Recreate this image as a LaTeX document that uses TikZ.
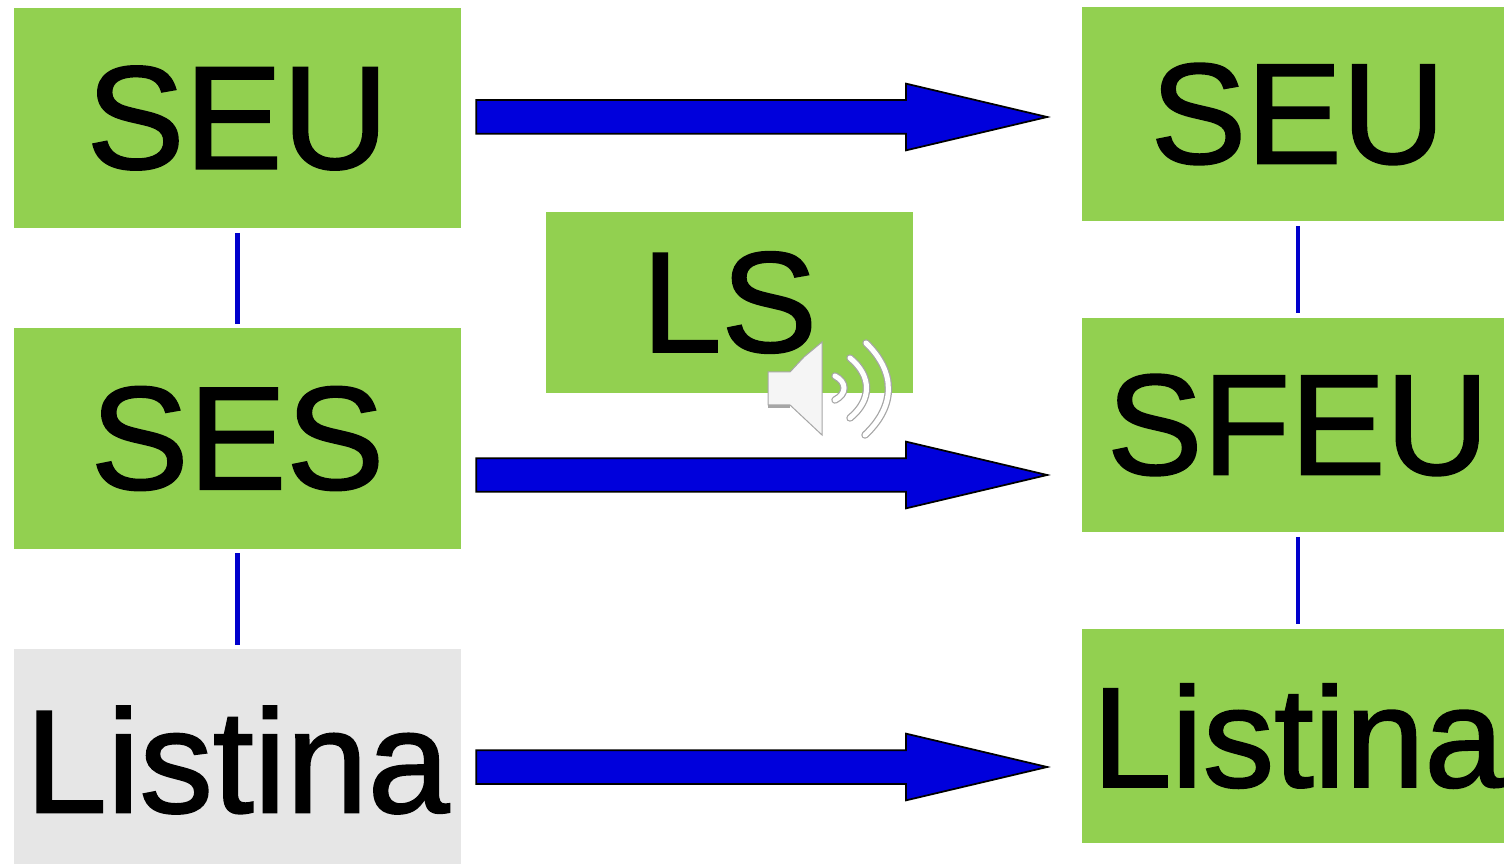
\documentclass[tikz,border=0pt]{standalone}
\usepackage{fontspec}
\setmainfont[FakeBold=1.4]{Liberation Sans}
\usetikzlibrary{shapes.arrows}
\definecolor{boxgreen}{HTML}{92D050}
\definecolor{boxgray}{HTML}{E6E6E6}
\definecolor{arrowblue}{HTML}{0000DC}
\definecolor{linkblue}{HTML}{0000CC}
\tikzset{
  leftfont/.style={font=\fontsize{83.5}{90}\selectfont},
  rightfont/.style={font=\fontsize{81.5}{90}\selectfont},
  box/.style={rectangle,fill=boxgreen,inner sep=0pt,outer sep=0pt,minimum width=8.94cm,minimum height=4.42cm},
  boxr/.style={box,minimum width=8.44cm,minimum height=4.28cm},
  link/.style={color=linkblue,line width=0.09cm},
  bigarrow/.style={single arrow,draw=black,fill=arrowblue,line width=0.035cm,inner sep=0.32cm,outer sep=0pt,
    minimum height=11.42cm,minimum width=1.3cm,single arrow head extend=0.33cm,
    single arrow tip angle=26.6,single arrow head indent=0cm},
  wave/.style={line cap=round,line width=0.15cm,color=gray!70},
  wavein/.style={line cap=round,line width=0.1cm,color=white}
}
\begin{document}
\begin{tikzpicture}[x=0.02cm,y=-0.02cm]
\useasboundingbox (0,0) rectangle (1504,864);
% left column
\node (seul)[box,leftfont] at (237.5,118) {SEU};
\node (sesl)[box,leftfont] at (237.5,438.5) {SES};
\node (listl)[box,leftfont,fill=boxgray,minimum height=4.3cm] at (237.5,756.5) {\raisebox{-0.07cm}[\height][\depth]{Listina}};
% right column
\node (seur)[boxr,rightfont] at (1293,114) {\hspace{0.2cm}SEU};
\node (sfeur)[boxr,rightfont,minimum height=4.28cm] at (1293,425) {\hspace{0.2cm}SFEU};
\node (listr)[boxr,font=\fontsize{81}{90}\selectfont] at (1293,736) {\hspace{0.2cm}Listina};
\node (ls)[box,rightfont,minimum width=7.34cm,minimum height=3.62cm] at (729.5,302.5) {LS};
\draw[link,shorten <=0.09cm,shorten >=0.09cm] (seul) -- (sesl);
\draw[link,shorten <=0.09cm,shorten >=0.09cm] (sesl) -- (listl);
\draw[link,shorten <=0.1cm,shorten >=0.1cm] ([xshift=0.1cm]seur.south) -- ([xshift=0.1cm]sfeur.north);
\draw[link,shorten <=0.1cm,shorten >=0.1cm] ([xshift=0.1cm]sfeur.south) -- ([xshift=0.1cm]listr.north);
% block arrows
\foreach \y/\n in {117/one,475/two,767/three}
  \node (arrow\n)[bigarrow] at (726,\y) {};
% speaker
\fill[color=gray!70] (768,376) rectangle (790,408);
\draw[color=gray!70,line width=0.02cm,fill=white!96!black] (768,372) -- (790,372) -- (804,357) -- (822,342) -- (822,435) -- (806,420) -- (790,405) -- (768,405) -- cycle;
\draw[wave] (835,376) .. controls (847,382) and (847,394) .. (835,400);
\draw[wave] (850,358) .. controls (872,376) and (872,400) .. (850,418);
\draw[wave] (866,343) .. controls (896,372) and (896,406) .. (865,435);
\draw[wavein] (835,376) .. controls (847,382) and (847,394) .. (835,400);
\draw[wavein] (850,358) .. controls (872,376) and (872,400) .. (850,418);
\draw[wavein] (866,343) .. controls (896,372) and (896,406) .. (865,435);
\end{tikzpicture}
\end{document}
